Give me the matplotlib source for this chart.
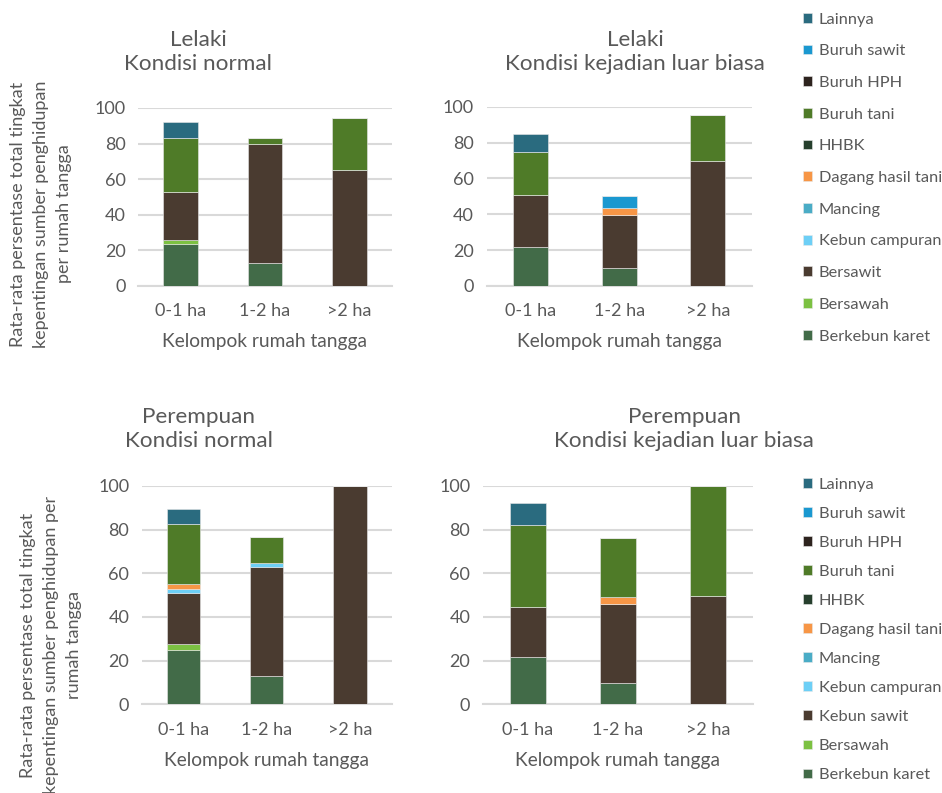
import matplotlib
matplotlib.use("Agg")
import matplotlib.pyplot as plt
from matplotlib.patches import Patch

plt.rcParams['font.family'] = ['Lato', 'DejaVu Sans']

W, H = 942, 793

groups = ["0-1 ha", "1-2 ha", ">2 ha"]

# stacking order, bottom to top
series = ["Berkebun karet", "Bersawah", "Bersawit", "Kebun campuran", "Mancing",
          "Dagang hasil tani", "HHBK", "Buruh tani", "Buruh HPH", "Buruh sawit", "Lainnya"]
series_bottom_legend = ["Berkebun karet", "Bersawah", "Kebun sawit", "Kebun campuran", "Mancing",
                        "Dagang hasil tani", "HHBK", "Buruh tani", "Buruh HPH", "Buruh sawit", "Lainnya"]
colors = ["#426b48", "#7cc142", "#4a3b30", "#6dcff6", "#4aacc6",
          "#f79646", "#263f2d", "#4f7b28", "#2d231e", "#1a98d0", "#2a6b7f"]

# segment values per group (0-1 ha, 1-2 ha, >2 ha)
lelaki_normal = {
    "Berkebun karet": [23.5, 12.7, 0],
    "Bersawah": [2.2, 0, 0],
    "Bersawit": [27.3, 67.3, 65.0],
    "Buruh tani": [30.0, 3.0, 29.6],
    "Lainnya": [9.0, 0, 0],
}
lelaki_klb = {
    "Berkebun karet": [21.9, 9.9, 0],
    "Bersawit": [28.7, 29.7, 69.9],
    "Dagang hasil tani": [0, 4.1, 0],
    "Buruh tani": [24.0, 0, 25.3],
    "Buruh sawit": [0, 6.3, 0],
    "Lainnya": [10.2, 0, 0],
}
perempuan_normal = {
    "Berkebun karet": [24.9, 13.0, 0],
    "Bersawah": [2.7, 0, 0],
    "Bersawit": [23.2, 50.0, 100.0],
    "Kebun campuran": [2.2, 1.5, 0],
    "Dagang hasil tani": [2.1, 0, 0],
    "Buruh tani": [27.5, 12.2, 0],
    "Lainnya": [6.9, 0, 0],
}
perempuan_klb = {
    "Berkebun karet": [21.7, 9.6, 0],
    "Bersawit": [22.9, 36.5, 49.5],
    "Dagang hasil tani": [0, 3.2, 0],
    "Buruh tani": [37.5, 27.0, 50.5],
    "Lainnya": [9.9, 0, 0],
}

ylabel_top = "Rata-rata persentase total tingkat\nkepentingan sumber penghidupan\nper rumah tangga"
ylabel_bottom = "Rata-rata persentase total tingkat\nkepentingan sumber penghidupan per\nrumah tangga"

txt = "#595959"
grid = "#d9d9d9"

fig = plt.figure(figsize=(W / 100, H / 100), dpi=100)


def px_axes(x0, x1, ytop, ybot):
    return fig.add_axes([x0 / W, 1 - ybot / H, (x1 - x0) / W, (ybot - ytop) / H])


def draw_panel(ax, data, bar_w):
    x = range(len(groups))
    bottom = [0.0] * len(groups)
    for name, col in zip(series, colors):
        vals = data.get(name, [0] * len(groups))
        ax.bar(x, vals, bar_w, bottom=bottom, color=col, edgecolor="#e8e8e8",
               linewidth=0.4, zorder=3)
        bottom = [b + v for b, v in zip(bottom, vals)]
    ax.set_xlim(-0.5, 2.5)
    ax.set_ylim(0, 100)
    ax.set_yticks(range(0, 101, 20))
    ax.set_xticks(list(x))
    ax.set_xticklabels(groups)
    ax.grid(axis="y", color=grid, linewidth=1.5, zorder=0)
    for s in ["top", "right", "left"]:
        ax.spines[s].set_visible(False)
    ax.spines["bottom"].set_color(grid)
    ax.spines["bottom"].set_linewidth(1.5)
    ax.tick_params(axis="y", length=0, labelsize=13, colors=txt, pad=9)
    ax.tick_params(axis="x", length=0, labelsize=13, colors=txt, pad=12.5)
    ax.set_xlabel("Kelompok rumah tangga", fontsize=13.8, color=txt, labelpad=10)


ax1 = px_axes(138, 392, 108, 286)
draw_panel(ax1, lelaki_normal, 0.41)
ax2 = px_axes(486.5, 752, 106.7, 286)
draw_panel(ax2, lelaki_klb, 0.40)
ax3 = px_axes(141.7, 391.6, 486, 704.3)
draw_panel(ax3, perempuan_normal, 0.40)
ax4 = px_axes(482.7, 752.7, 486, 704.3)
draw_panel(ax4, perempuan_klb, 0.40)

title_kw = dict(ha="center", va="center", fontsize=16.2, color=txt, linespacing=1.3)
fig.text(198 / W, 1 - 52 / H, "Lelaki\nKondisi normal", **title_kw)
fig.text(635 / W, 1 - 52 / H, "Lelaki\nKondisi kejadian luar biasa", **title_kw)
fig.text(199 / W, 1 - 429 / H, "Perempuan\nKondisi normal", **title_kw)
fig.text(684 / W, 1 - 429 / H, "Perempuan\nKondisi kejadian luar biasa", **title_kw)

ylab_kw = dict(rotation=90, ha="center", va="center", fontsize=13, color=txt,
               multialignment="center", linespacing=1.55)
fig.text(41 / W, 1 - 214 / H, ylabel_top, **ylab_kw)
fig.text(51 / W, 1 - 645 / H, ylabel_bottom, **ylab_kw)

handles_top = [Patch(facecolor=c, edgecolor="#e8e8e8", linewidth=0.4, label=n)
               for n, c in zip(series, colors)][::-1]
handles_bot = [Patch(facecolor=c, edgecolor="#e8e8e8", linewidth=0.4, label=n)
               for n, c in zip(series_bottom_legend, colors)][::-1]

leg_kw = dict(loc="upper left", frameon=False, fontsize=11.8, handlelength=0.55,
              handleheight=0.55, handletextpad=0.45, borderaxespad=0, labelcolor=txt)
fig.legend(handles=handles_top, bbox_to_anchor=(796 / W, 1 - 6 / H), labelspacing=1.08, **leg_kw)
fig.legend(handles=handles_bot, bbox_to_anchor=(796 / W, 1 - 471 / H), labelspacing=0.92, **leg_kw)

fig.savefig("out.png", dpi=100)
